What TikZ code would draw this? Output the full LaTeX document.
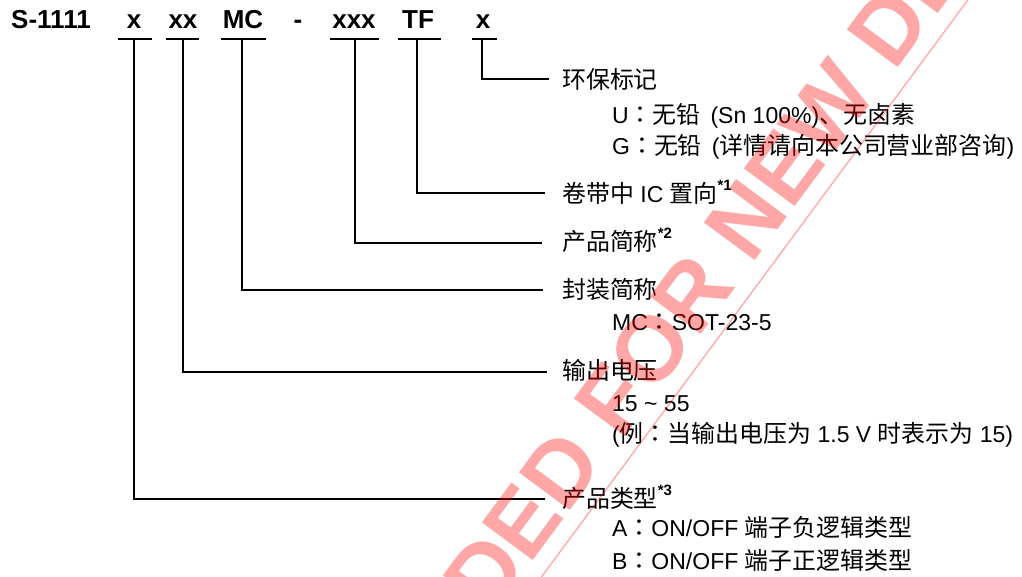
\documentclass[tikz,border=0pt]{standalone}
\usepackage{fontspec}
\setmainfont{Liberation Sans}
\newfontfamily\zhfont[Scale=1.04]{Noto Sans CJK SC}
\newfontfamily\jpfont[Scale=1.04]{Noto Sans CJK JP}
\newcommand\zh[1]{{\zhfont #1}}
\newcommand\zc{{\jpfont ：}}
\newcommand\supn[1]{\raisebox{12pt}{\fontsize{15}{15}\selectfont\bfseries *#1}}
\begin{document}
\begin{tikzpicture}[x=1pt,y=-1pt,
  code/.style={anchor=base, inner sep=0pt, font=\fontsize{26}{26}\selectfont\bfseries},
  lbl/.style={anchor=base west, inner sep=0pt, font=\fontsize{23}{23}\selectfont},
  uline/.style={line width=1.6pt},
  lead/.style={line width=1.5pt},
  wmark/.style={red, opacity=0.35},
]
\useasboundingbox (0,0) rectangle (1022,576);
% title
\node[code, anchor=base west] (pn) at (11,28) {S-1111};
\node[code] (c1) at (134,28) {x};
\node[code] (c2) at (183,28) {xx};
\node[code] (c3) at (243,28) {MC};
\node[code] (dash) at (298,28) {-};
\node[code] (c4) at (354,28) {xxx};
\node[code] (c5) at (418,28) {TF};
\node[code] (c6) at (483,28) {x};
% underlines
\draw[uline] (118,39) -- (152,39);
\draw[uline] (166,39) -- (199,39);
\draw[uline] (221,39) -- (266,39);
\draw[uline] (330,39) -- (379,39);
\draw[uline] (398,39) -- (441,39);
\draw[uline] (472,39) -- (497,39);
% tap points
\coordinate (t1) at (134,39);
\coordinate (t2) at (183,39);
\coordinate (t3) at (242,39);
\coordinate (t4) at (355,39);
\coordinate (t5) at (417,39);
\coordinate (t6) at (482,39);
% ends
\coordinate (e6) at (549,79);
\coordinate (e5) at (545,193);
\coordinate (e4) at (542,243);
\coordinate (e3) at (543,290);
\coordinate (e2) at (547,372);
\coordinate (e1) at (545,499);
\draw[lead] (t6) |- (e6);
\draw[lead] (t5) |- (e5);
\draw[lead] (t4) |- (e4);
\draw[lead] (t3) |- (e3);
\draw[lead] (t2) |- (e2);
\draw[lead] (t1) |- (e1);
% labels
\node[lbl] (L6) at (562,88) {\zh{环保标记}};
\node[lbl] (L6a) at (612,123) {U\zc\zh{无铅}\hspace{10pt}(Sn 100\%)\zh{、无卤素}};
\node[lbl] (L6b) at (612,154) {G\zc\zh{无铅}\hspace{10pt}(\zh{详情请向本公司营业部咨询})};
\node[lbl] (L5) at (562,202) {\zh{卷带中} IC \zh{置向}\supn{1}};
\node[lbl] (L4) at (562,250) {\zh{产品简称}\supn{2}};
\node[lbl] (L3) at (562,298) {\zh{封装简称}};
\node[lbl] (L3a) at (612,330) {MC\zc SOT-23-5};
\node[lbl] (L2) at (562,379) {\zh{输出电压}};
\node[lbl] (L2a) at (612,411) {15 \symbol{126} 55};
\node[lbl] (L2b) at (612,442) {(\zh{例}\zc\zh{当输出电压为} 1.5 V \zh{时表示为} 15)};
\node[lbl] (L1) at (562,507) {\zh{产品类型}\supn{3}};
\node[lbl] (L1a) at (612,536) {A\zc ON/OFF \zh{端子负逻辑类型}};
\node[lbl] (L1b) at (612,569) {B\zc ON/OFF \zh{端子正逻辑类型}};
% watermark
\begin{scope}
\clip (0,0) rectangle (1022,576);
\node[wmark, rotate=53.5, anchor=base west, inner sep=0pt,
  font=\fontsize{92}{92}\selectfont\bfseries] (wm) at (621,442)
  {\llap{NOT RECOMMENDED }FOR NEW DESIGN};
\coordinate (w1) at (990,-30);
\coordinate (w2) at (520,606);
\draw[wmark, line width=1.3pt] (w1) -- (w2);
\end{scope}
\end{tikzpicture}
\end{document}
